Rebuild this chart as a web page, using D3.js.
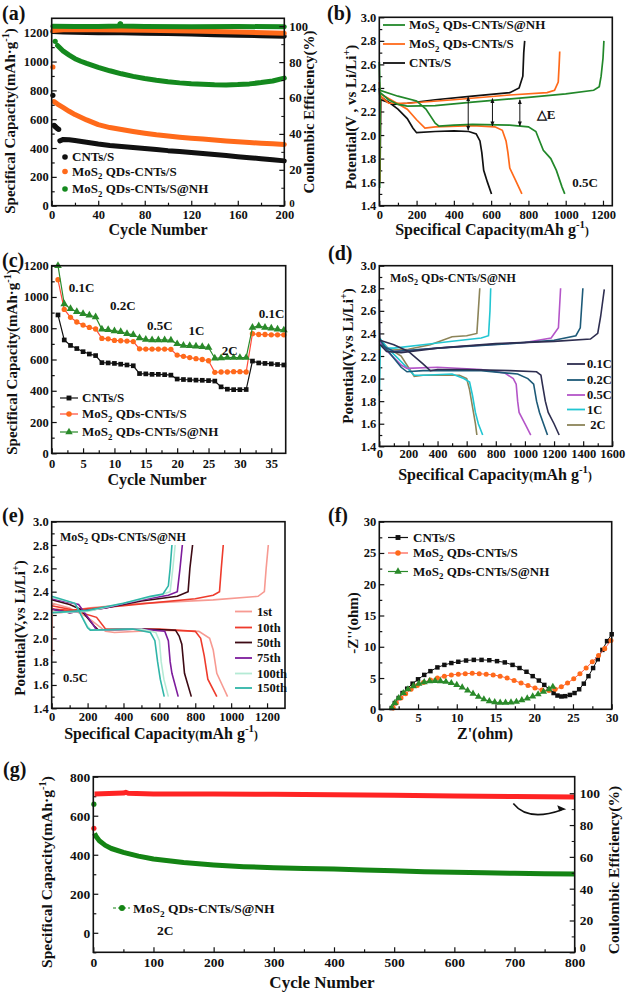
<!DOCTYPE html>
<html><head><meta charset="utf-8">
<script src="https://cdn.jsdelivr.net/npm/d3@7"></script>
<style>
body{margin:0;background:#fff}
svg{display:block}
text{font-family:"Liberation Serif","Times New Roman",serif;font-weight:bold;fill:#111}
</style>
</head><body>
<svg id="c" width="626" height="992"></svg>
<script>
// ---------------- DATA ----------------
// (a) cycling at 0.5C
const aCycleTicks=[0,40,80,120,160,200];
const aCapTicks=[0,200,400,600,800,1000,1200];
const aCETicks=[0,20,40,60,80,100];
const aCapCNT=[[1,766],[2,558],[3,550],[4,542],[5,535],[6,530],[7,450],[10,460],[15,458],[20,452],[30,440],[40,428],[50,418],[60,410],[70,403],[80,396],[90,390],[100,382],[110,376],[120,369],[130,362],[140,355],[150,348],[160,340],[170,333],[180,326],[190,318],[200,311]];
const aCapMoS=[[1,962],[2,722],[5,705],[10,680],[15,655],[20,632],[30,595],[40,562],[50,542],[60,528],[70,515],[80,503],[90,492],[100,483],[110,475],[120,468],[130,462],[140,455],[150,449],[160,443],[170,438],[180,433],[190,429],[200,425]];
const aCapNH=[[3,1140],[5,1112],[10,1072],[15,1045],[20,1020],[25,1002],[30,987],[40,960],[50,936],[60,915],[70,897],[80,882],[90,870],[100,860],[110,852],[120,846],[130,842],[140,839],[150,838],[160,840],[170,845],[180,854],[190,865],[200,885]];
const aCECNT=[[1,97],[10,96.8],[20,96.6],[40,96.4],[60,96.3],[80,96.1],[100,95.9],[120,95.6],[140,95.3],[160,95],[180,94.7],[200,94.4]];
const aCEMoS=[[1,97.6],[10,98],[40,98],[80,97.7],[120,97.3],[160,96.8],[200,96.1]];
const aCENH=[[1,100],[20,99.8],[40,99.9],[58,100.1],[59,101.2],[60,100.1],[80,99.9],[120,99.7],[160,99.8],[200,99.7]];
const aNames=["CNTs/S","MoS2 QDs-CNTs/S","MoS2 QDs-CNTs/S@NH"];

// (b) voltage profiles 0.5C
const bCapTicks=[0,200,400,600,800,1000,1200];
const bVTicks=[1.4,1.6,1.8,2.0,2.2,2.4,2.6,2.8,3.0];
const bNHdis=[[0,2.62],[4,2.38],[100,2.33],[200,2.29],[250,2.22],[300,2.10],[320,2.075],[400,2.085],[500,2.09],[700,2.085],[800,2.07],[840,2.03],[860,1.95],[880,1.87],[920,1.80],[950,1.70],[980,1.56],[995,1.50]];
const bNHch=[[2,1.55],[5,2.36],[50,2.30],[100,2.26],[150,2.245],[300,2.25],[500,2.28],[800,2.32],[1000,2.35],[1150,2.38],[1180,2.41],[1190,2.5],[1200,2.65],[1205,2.80]];
const bMoSdis=[[0,2.45],[3,2.35],[50,2.31],[150,2.22],[200,2.13],[245,2.06],[300,2.07],[500,2.08],[620,2.07],[660,2.04],[680,1.95],[690,1.85],[700,1.72],[730,1.62],[765,1.50]];
const bMoSch=[[3,1.6],[6,2.33],[50,2.27],[150,2.27],[400,2.30],[700,2.34],[900,2.36],[940,2.38],[960,2.45],[965,2.6],[968,2.71]];
const bCNTdis=[[0,2.40],[3,2.33],[50,2.28],[100,2.22],[150,2.14],[180,2.06],[200,2.02],[300,2.03],[400,2.035],[480,2.03],[520,2.01],[540,1.95],[550,1.85],[560,1.70],[580,1.60],[602,1.50]];
const bCNTch=[[4,1.7],[8,2.30],[80,2.26],[150,2.27],[300,2.30],[500,2.33],[700,2.36],[750,2.40],[770,2.5],[775,2.7],[780,2.80]];
const bArrows=[[477,2.04,2.325],[607,2.077,2.31],[754,2.077,2.30]];

// (c) rate
const cCycles=[1,2,3,4,5,6,7,8,9,10,11,12,13,14,15,16,17,18,19,20,21,22,23,24,25,26,27,28,29,30,31,32,33,34,35,36,37];
const cCNT=[885,725,690,670,650,635,625,580,578,575,570,565,560,510,508,505,505,503,500,475,472,470,468,467,465,462,425,410,407,407,408,590,578,575,572,568,565];
const cMoS=[1110,920,870,840,820,805,795,735,732,722,720,718,715,668,667,667,667,667,665,628,620,612,605,600,592,518,520,520,522,522,520,765,760,760,758,758,758];
const cNH=[1200,955,925,905,893,883,872,793,790,783,778,765,758,738,728,725,725,725,723,700,690,688,685,682,677,608,610,612,612,612,612,805,815,805,800,793,788];
const cCycleTicks=[0,5,10,15,20,25,30,35];
const cCapTicks=[0,200,400,600,800,1000,1200];
const cRates=[["0.1C",2.7,1065],["0.2C",9.3,950],["0.5C",15.2,820],["1C",21.8,790],["2C",27.1,660],["0.1C",33,895]];

// (d) rate voltage profiles
const dCapTicks=[0,200,400,600,800,1000,1200,1400,1600];
const dRates=["0.1C","0.2C","0.5C","1C"," 2C"];
const d01dis=[[0,2.70],[4,2.34],[100,2.30],[200,2.24],[300,2.13],[350,2.07],[400,2.08],[600,2.08],[900,2.07],[1080,2.06],[1110,2.03],[1120,1.95],[1140,1.80],[1160,1.70],[1200,1.60],[1235,1.50]];
const d01ch=[[6,2.30],[50,2.24],[150,2.23],[400,2.27],[800,2.31],[1200,2.33],[1450,2.35],[1500,2.40],[1520,2.55],[1545,2.79]];
const d02dis=[[0,2.35],[50,2.26],[150,2.10],[190,2.06],[300,2.07],[700,2.07],[950,2.04],[1020,2.00],[1060,1.95],[1080,1.80],[1100,1.70],[1155,1.50]];
const d02ch=[[6,2.30],[100,2.24],[400,2.27],[900,2.31],[1200,2.34],[1350,2.38],[1380,2.45],[1398,2.80]];
const d05dis=[[0,2.33],[50,2.25],[150,2.12],[190,2.09],[400,2.10],[700,2.08],[860,2.05],[920,2.00],[940,1.95],[950,1.80],[960,1.70],[1000,1.60],[1040,1.50]];
const d05ch=[[6,2.30],[100,2.24],[500,2.28],[1000,2.32],[1180,2.36],[1230,2.45],[1245,2.80]];
const d1dis=[[0,1.85],[8,2.35],[50,2.28],[150,2.15],[240,2.03],[300,2.03],[500,2.04],[580,2.00],[620,1.97],[640,1.85],[660,1.70],[680,1.60],[710,1.50]];
const d1ch=[[6,2.32],[50,2.27],[100,2.27],[300,2.30],[500,2.33],[700,2.36],[750,2.38],[760,2.6],[765,2.80]];
const d2dis=[[0,2.34],[60,2.27],[150,2.20],[240,2.02],[300,2.03],[550,2.03],[600,2.00],[620,1.90],[640,1.75],[660,1.60],[670,1.50]];
const d2ch=[[6,2.30],[50,2.25],[200,2.26],[350,2.30],[500,2.37],[600,2.38],[670,2.40],[680,2.6],[690,2.80]];

// (e) cycle voltage profiles
const eCapTicks=[0,200,400,600,800,1000,1200];
const eCycles=["1st","10th","50th","75th","100th","150th"];
const e1dis=[[0,1.85],[3,2.30],[100,2.26],[200,2.18],[300,2.06],[350,2.05],[600,2.07],[820,2.06],[880,2.00],[900,1.90],[920,1.70],[950,1.60],[980,1.50]];
const e1ch=[[4,2.22],[50,2.22],[200,2.26],[500,2.30],[900,2.33],[1150,2.36],[1185,2.40],[1195,2.60],[1207,2.80]];
const e10dis=[[0,2.28],[100,2.25],[250,2.18],[300,2.08],[600,2.08],[800,2.06],[830,2.00],[850,1.85],[870,1.65],[920,1.50]];
const e10ch=[[4,2.25],[100,2.24],[400,2.28],[800,2.34],[900,2.37],[935,2.40],[945,2.60],[956,2.80]];
const e50dis=[[0,2.33],[100,2.29],[160,2.25],[240,2.10],[260,2.07],[500,2.08],[690,2.07],[710,2.02],[725,1.95],[740,1.70],[778,1.50]];
const e50ch=[[4,2.25],[100,2.22],[300,2.26],[500,2.32],[700,2.36],[760,2.40],[770,2.6],[785,2.80]];
const e75dis=[[0,2.34],[150,2.29],[230,2.12],[250,2.07],[500,2.08],[630,2.06],[650,1.98],[660,1.80],[670,1.70],[705,1.50]];
const e75ch=[[4,2.25],[100,2.22],[300,2.26],[500,2.33],[650,2.37],[700,2.40],[715,2.6],[728,2.80]];
const e100dis=[[0,2.35],[130,2.30],[200,2.10],[220,2.07],[500,2.08],[580,2.05],[600,1.98],[610,1.80],[625,1.65],[650,1.50]];
const e100ch=[[4,2.22],[200,2.23],[400,2.30],[600,2.37],[660,2.40],[675,2.6],[688,2.80]];
const e150dis=[[0,2.36],[130,2.30],[200,2.09],[215,2.07],[450,2.08],[550,2.05],[575,1.98],[590,1.80],[605,1.65],[627,1.50]];
const e150ch=[[4,2.22],[200,2.24],[400,2.30],[550,2.36],[620,2.38],[650,2.45],[660,2.6],[670,2.80]];

// (f) EIS
const fTicks=[0,5,10,15,20,25,30];
const fCNT=[[1.6,0.2],[2.0,1.0],[2.5,1.8],[3.0,2.6],[3.6,3.3],[4.3,4.1],[5.0,4.8],[5.8,5.5],[6.6,6.1],[7.5,6.7],[8.4,7.1],[9.3,7.4],[10.2,7.6],[11.2,7.8],[12.2,7.9],[13.2,7.9],[14.2,7.85],[15.2,7.7],[16.2,7.5],[17.2,7.1],[18.1,6.6],[19.0,6.0],[19.8,5.3],[20.6,4.6],[21.3,3.9],[21.9,3.2],[22.5,2.6],[23.0,2.2],[23.5,2.05],[24.0,2.1],[24.6,2.3],[25.2,2.6],[25.8,3.2],[26.4,4.1],[27.0,5.3],[27.6,6.6],[28.2,8.0],[28.8,9.5],[29.4,10.9],[30.0,12.0]];
const fMoS=[[1.8,0.2],[2.2,1.0],[2.8,1.8],[3.4,2.5],[4.1,3.2],[4.9,3.8],[5.7,4.3],[6.6,4.7],[7.5,5.0],[8.4,5.3],[9.3,5.5],[10.2,5.6],[11.1,5.7],[12.0,5.75],[12.9,5.7],[13.8,5.6],[14.7,5.5],[15.6,5.3],[16.5,5.0],[17.4,4.6],[18.3,4.2],[19.2,3.8],[20.1,3.4],[21.0,3.1],[21.9,3.0],[22.7,3.2],[23.5,3.6],[24.3,4.2],[25.1,4.9],[25.9,5.7],[26.7,6.6],[27.5,7.6],[28.3,8.6],[29.1,9.7],[29.9,11.0]];
const fNH=[[1.6,0.2],[2.0,1.0],[2.5,1.8],[3.1,2.6],[3.7,3.2],[4.4,3.7],[5.1,4.1],[5.8,4.35],[6.5,4.5],[7.2,4.55],[7.9,4.5],[8.6,4.4],[9.3,4.2],[10.0,3.9],[10.7,3.5],[11.4,3.0],[12.1,2.5],[12.8,2.0],[13.5,1.6],[14.2,1.3],[14.9,1.15],[15.6,1.05],[16.3,1.05],[17.0,1.1],[17.7,1.2],[18.4,1.45],[19.1,1.75],[19.8,2.05],[20.5,2.4],[21.2,2.8],[21.9,3.2],[22.4,3.6]];

// (g) long cycling at 2C
const gCycleTicks=[0,100,200,300,400,500,600,700,800];
const gCapTicks=[0,200,400,600,800];
const gCETicks=[0,20,40,60,80,100];
const gCap=[[1,659],[2,510],[5,492],[10,472],[20,448],[30,432],[50,412],[75,393],[100,378],[150,360],[200,348],[250,339],[300,333],[350,330],[400,327],[450,322],[500,318],[550,313],[600,310],[650,308],[700,305],[750,303],[800,301]];
const gCE=[[1,78],[2,99.6],[50,100.1],[54,100.6],[58,100],[100,99.6],[200,99.5],[300,99.3],[400,99],[500,98.7],[600,98.3],[700,97.9],[800,97.6]];

// ---------------- DRAWING ----------------
const svg=d3.select("#c");
const FONT_TICK=12.5;

function rich(sel,segs,fs){
  let shift=0;
  segs.forEach(([t,type])=>{
    let dy=0,size=fs;
    if(type==="sub"){dy=fs*0.28-shift;shift=fs*0.28;size=fs*0.68;}
    else if(type==="sup"){dy=-fs*0.42-shift;shift=-fs*0.42;size=fs*0.68;}
    else {dy=-shift;shift=0;if(type==="small")size=fs*0.72;}
    sel.append("tspan").attr("dy",dy).attr("font-size",size).text(t);
  });
  return sel;
}
function nameSegs(n){
  if(n.startsWith("MoS2")) return [["MoS"],["2","sub"],[n.slice(4)]];
  return [[n]];
}

function panel(o){
  const g=svg.append("g");
  const x=d3.scaleLinear().domain(o.xd).range([o.x0,o.x1]);
  const y=d3.scaleLinear().domain(o.yd).range([o.y1,o.y0]);
  const ts=o.ts||FONT_TICK;
  if(o.xm){g.append("g").attr("transform",`translate(0,${o.y1})`).call(d3.axisBottom(x).tickValues(o.xm).tickSize(-3).tickFormat(""));}
  if(o.ym){g.append("g").attr("transform",`translate(${o.x0},0)`).call(d3.axisLeft(y).tickValues(o.ym).tickSize(-3).tickFormat(""));}
  const gx=g.append("g").attr("transform",`translate(0,${o.y1})`)
    .call(d3.axisBottom(x).tickValues(o.xt).tickSize(-5).tickPadding(o.xpad||4).tickFormat(o.xf||d3.format("d")));
  const gy=g.append("g").attr("transform",`translate(${o.x0},0)`)
    .call(d3.axisLeft(y).tickValues(o.yt).tickSize(-5).tickPadding(3).tickFormat(o.yf||d3.format("d")));
  [gx,gy].forEach(a=>{a.selectAll("text").attr("font-size",ts).attr("font-family",null).style("fill","#111");});
  g.selectAll(".domain").remove();
  g.selectAll("line").attr("stroke","#111").attr("stroke-width",1.2);
  const layer=svg.append("g");
  svg.append("rect").attr("x",o.x0).attr("y",o.y0).attr("width",o.x1-o.x0).attr("height",o.y1-o.y0)
    .attr("fill","none").attr("stroke","#111").attr("stroke-width",1.6);
  return {x,y,g,layer};
}
function rightAxis(p,o,sc){
  const a=svg.append("g").attr("transform",`translate(${o.x1},0)`)
    .call(d3.axisRight(sc).tickValues(o.rt).tickSize(-5).tickPadding(5).tickFormat(d3.format("d")));
  a.select(".domain").remove();
  a.selectAll("line").attr("stroke","#111").attr("stroke-width",1.2);
  a.selectAll("text").attr("font-size",o.ts||FONT_TICK).attr("font-family",null).style("fill","#111");
  a.selectAll(".tick").filter(d=>d===0).select("text").attr("dy",o.zdy||"0.1em").attr("font-size",(o.ts||FONT_TICK)-1.5);
  if(o.rm){const m=svg.append("g").attr("transform",`translate(${o.x1},0)`).call(d3.axisRight(sc).tickValues(o.rm).tickSize(-3).tickFormat(""));m.select(".domain").remove();m.selectAll("line").attr("stroke","#111");}
}
function label(t,x,y){svg.append("text").attr("x",x).attr("y",y).attr("font-size",20).text(t);}
function xTitle(segs,cx,y,fs){rich(svg.append("text").attr("x",cx).attr("y",y).attr("text-anchor","middle").attr("font-size",fs),segs,fs);}
function yTitle(segs,cx,cy,fs){rich(svg.append("text").attr("transform",`translate(${cx+fs*0.34},${cy}) rotate(-90)`).attr("text-anchor","middle").attr("font-size",fs),segs,fs);}
function lineGen(p){return d3.line().x(d=>p.x(d[0])).y(d=>p.y(d[1]));}

const capTitle=[["Specifical Capacity(mAh·g"],["-1","sup"],[")"]];
const capXTitle=[["Specifical Capacity"],["(","small"],["mAh g"],["-1","sup"],[")","small"]];
const cycTitle=[["Cycle Number"]];
const ceTitle=[["Coulombic Efficiency(%)"]];

const BLK="#111111", ORG="#ff6a1a", GRN="#14891e";

// ===== (a) =====
{
  const o={x0:51.7,x1:284.3,y0:18.3,y1:205.7,xd:[0,200],yd:[0,1300],xt:aCycleTicks,yt:aCapTicks,
    xm:[20,60,100,140,180],ym:[100,300,500,700,900,1100],rt:aCETicks,rm:[10,30,50,70,90]};
  const p=panel(o);
  const yr=d3.scaleLinear().domain([0,104.4]).range([o.y1,o.y0]);
  rightAxis(p,o,yr);
  const L=p.layer;
  const drawBand=(data,col,sy,start)=>{
    const band=data.filter(d=>d[0]>=start);
    L.append("path").datum(band).attr("d",d3.line().x(d=>p.x(d[0])).y(d=>sy(d[1])))
      .attr("fill","none").attr("stroke",col).attr("stroke-width",5).attr("stroke-linecap","round").attr("stroke-linejoin","round");
    L.selectAll(null).data(data.filter(d=>d[0]<start)).join("circle")
      .attr("cx",d=>p.x(d[0])).attr("cy",d=>sy(d[1])).attr("r",2.6).attr("fill",col);
  };
  drawBand(aCECNT,BLK,yr,1);
  drawBand(aCEMoS,ORG,yr,1);
  drawBand(aCENH,GRN,yr,1);
  drawBand(aCapCNT,BLK,p.y,7);
  drawBand(aCapMoS,ORG,p.y,2);
  drawBand(aCapNH,GRN,p.y,5);
  L.selectAll(null).data(aCENH.filter(d=>d[1]>101)).join("circle").attr("cx",d=>p.x(d[0])).attr("cy",d=>yr(d[1])).attr("r",2.8).attr("fill",GRN);
  const ly=[161,175.5,193],cols=[BLK,ORG,GRN];
  aNames.forEach((n,i)=>{
    svg.append("circle").attr("cx",65).attr("cy",ly[i]-4).attr("r",2.8).attr("fill",cols[i]);
    rich(svg.append("text").attr("x",72).attr("y",ly[i]).attr("font-size",13),nameSegs(n),13);
  });
  label("(a)",2,20);
  xTitle(cycTitle,158,235,16);
  yTitle(capTitle,10,121,15);
  yTitle(ceTitle,309,112,15);
}

// ===== (b) =====
{
  const o={x0:379.3,x1:612.3,y0:17.3,y1:205.7,xd:[0,1250],yd:[1.4,3.0],xt:bCapTicks,yt:bVTicks,
    xm:[100,300,500,700,900,1100],ym:[1.5,1.7,1.9,2.1,2.3,2.5,2.7,2.9],yf:d3.format(".1f")};
  const p=panel(o);const lg=lineGen(p);
  const series=[[bCNTdis,bCNTch,BLK],[bMoSdis,bMoSch,ORG],[bNHdis,bNHch,"#22882a"]];
  series.forEach(([d,c,col])=>{
    [d,c].forEach(s=>p.layer.append("path").datum(s).attr("d",lg).attr("fill","none").attr("stroke",col).attr("stroke-width",1.7));
  });
  const defs=svg.append("defs");
  defs.append("marker").attr("id","ah").attr("viewBox","0 0 10 10").attr("refX",9).attr("refY",5)
    .attr("markerWidth",5).attr("markerHeight",5).attr("orient","auto-start-reverse")
    .append("path").attr("d","M0,1 L10,5 L0,9 z").attr("fill","#111");
  bArrows.forEach(([cx,lo,hi])=>{
    svg.append("line").attr("x1",p.x(cx)).attr("x2",p.x(cx)).attr("y1",p.y(lo)).attr("y2",p.y(hi))
      .attr("stroke","#111").attr("stroke-width",1).attr("marker-start","url(#ah)").attr("marker-end","url(#ah)");
  });
  svg.append("text").attr("x",p.x(845)).attr("y",p.y(2.14)).attr("font-size",13).attr("font-weight","normal").text("△E");
  svg.append("text").attr("x",p.x(1035)).attr("y",p.y(1.56)).attr("font-size",13).text("0.5C");
  const names=[aNames[2],aNames[1],aNames[0]],cols=["#22882a",ORG,BLK],ly=[29,48,67];
  names.forEach((n,i)=>{
    svg.append("line").attr("x1",383).attr("x2",405).attr("y1",ly[i]-4).attr("y2",ly[i]-4).attr("stroke",cols[i]).attr("stroke-width",1.8);
    rich(svg.append("text").attr("x",409).attr("y",ly[i]).attr("font-size",13),nameSegs(n),13);
  });
  label("(b)",327,20);
  xTitle(capXTitle,492,235,16);
  yTitle([["Potential(V ,  vs Li/Li"],["+","sup"],[")"]],351,117,15);
}

// ===== (c) =====
{
  const o={x0:51.7,x1:285.7,y0:265.7,y1:453.3,xd:[0,37.3],yd:[0,1200],xt:cCycleTicks,yt:cCapTicks,
    xm:[2.5,7.5,12.5,17.5,22.5,27.5,32.5],ym:[100,300,500,700,900,1100],xpad:6};
  const p=panel(o);
  const mk=(vals,col,lcol,shape)=>{
    const data=cCycles.map((c,i)=>[c,vals[i]]);
    p.layer.append("path").datum(data).attr("d",lineGen(p)).attr("fill","none").attr("stroke",lcol).attr("stroke-width",1.2);
    p.layer.selectAll(null).data(data).join("path")
      .attr("transform",d=>`translate(${p.x(d[0])},${p.y(d[1])})`)
      .attr("d",d3.symbol().type(shape).size(shape===d3.symbolTriangle?26:22)).attr("fill",col);
  };
  mk(cCNT,BLK,BLK,d3.symbolSquare);
  mk(cMoS,ORG,"#ff4a3a",d3.symbolCircle);
  mk(cNH,"#2a8a2a","#2a8a2a",d3.symbolTriangle);
  cRates.forEach(([t,cx,v])=>svg.append("text").attr("x",p.x(cx)).attr("y",p.y(v)+5).attr("font-size",13).text(t));
  const ly=[402,418,436],cols=[[BLK,BLK,d3.symbolSquare],[ORG,"#ff4a3a",d3.symbolCircle],["#2a8a2a","#2a8a2a",d3.symbolTriangle]];
  aNames.forEach((n,i)=>{
    svg.append("line").attr("x1",60).attr("x2",78).attr("y1",ly[i]-4).attr("y2",ly[i]-4).attr("stroke",cols[i][1]).attr("stroke-width",1.2);
    svg.append("path").attr("transform",`translate(69,${ly[i]-4})`).attr("d",d3.symbol().type(cols[i][2]).size(24)).attr("fill",cols[i][0]);
    rich(svg.append("text").attr("x",82).attr("y",ly[i]).attr("font-size",13),nameSegs(n),13);
  });
  label("(c)",2,267);
  xTitle(cycTitle,157,485,16);
  yTitle(capTitle,12,362,15);
}

// ===== (d) =====
{
  const o={x0:379.3,x1:612.3,y0:265.7,y1:446.3,xd:[0,1600],yd:[1.4,3.0],xt:dCapTicks,yt:bVTicks,
    xm:[100,300,500,700,900,1100,1300,1500],ym:[1.5,1.7,1.9,2.1,2.3,2.5,2.7,2.9],yf:d3.format(".1f"),xpad:3};
  const p=panel(o);const lg=lineGen(p);
  const cols=["#2e2e50","#1d5a78","#b455c8","#22c6d2","#8c8458"];
  const sets=[[d01dis,d01ch],[d02dis,d02ch],[d05dis,d05ch],[d1dis,d1ch],[d2dis,d2ch]];
  [4,3,2,1,0].forEach(i=>sets[i].forEach(s=>p.layer.append("path").datum(s).attr("d",lg).attr("fill","none").attr("stroke",cols[i]).attr("stroke-width",1.6)));
  const ly=[368,384,399,413.5,429];
  dRates.forEach((t,i)=>{
    svg.append("line").attr("x1",567).attr("x2",585).attr("y1",ly[i]-4).attr("y2",ly[i]-4).attr("stroke",cols[i]).attr("stroke-width",1.8);
    svg.append("text").attr("x",587).attr("y",ly[i]).attr("font-size",12.5).text(t).style("white-space","pre");
  });
  rich(svg.append("text").attr("x",390).attr("y",282).attr("font-size",12),nameSegs(aNames[2]),12);
  label("(d)",328,260);
  xTitle(capXTitle,495,480,16);
  yTitle([["Potential(V,vs Li/Li"],["+","sup"],[")"]],348,356,15);
}

// ===== (e) =====
{
  const o={x0:51.7,x1:285,y0:521.7,y1:708.3,xd:[0,1300],yd:[1.4,3.0],xt:eCapTicks,yt:bVTicks,
    xm:[100,300,500,700,900,1100],ym:[1.5,1.7,1.9,2.1,2.3,2.5,2.7,2.9],yf:d3.format(".1f")};
  const p=panel(o);const lg=lineGen(p);
  const cols=["#f79a92","#ee3b2c","#3d0a14","#7d1c9c","#b5ead5","#2fb5a8"];
  const sets=[[e1dis,e1ch],[e10dis,e10ch],[e50dis,e50ch],[e75dis,e75ch],[e100dis,e100ch],[e150dis,e150ch]];
  sets.forEach((s2,i)=>s2.forEach(s=>p.layer.append("path").datum(s).attr("d",lg).attr("fill","none").attr("stroke",cols[i]).attr("stroke-width",1.6)));
  const ly=[615.5,631.5,646.5,662,677.5,692];
  eCycles.forEach((t,i)=>{
    svg.append("line").attr("x1",235).attr("x2",252).attr("y1",ly[i]-4).attr("y2",ly[i]-4).attr("stroke",cols[i]).attr("stroke-width",1.8);
    svg.append("text").attr("x",257).attr("y",ly[i]).attr("font-size",12.5).text(t);
  });
  rich(svg.append("text").attr("x",60).attr("y",541).attr("font-size",12),nameSegs(aNames[2]),12);
  svg.append("text").attr("x",63).attr("y",682).attr("font-size",12.5).text("0.5C");
  label("(e)",2,522);
  xTitle(capXTitle,161,739,16);
  yTitle([["Potential(V,vs Li/Li"],["+","sup"],[")"]],20,628,15);
}

// ===== (f) =====
{
  const o={x0:379.3,x1:611.7,y0:521.7,y1:709.3,xd:[0,30],yd:[0,30],xt:fTicks,yt:fTicks,
    xm:[2.5,7.5,12.5,17.5,22.5,27.5],ym:[2.5,7.5,12.5,17.5,22.5,27.5]};
  const p=panel(o);const lg=lineGen(p);
  const sets=[[fCNT,BLK,BLK,d3.symbolSquare,20],[fMoS,ORG,"#ff5a4a",d3.symbolCircle,20],[fNH,"#2a8a2a","#2a8a2a",d3.symbolTriangle,22]];
  sets.forEach(([d,col,lc,sh,sz])=>{
    p.layer.append("path").datum(d).attr("d",lg).attr("fill","none").attr("stroke",lc).attr("stroke-width",1);
    p.layer.selectAll(null).data(d).join("path").attr("transform",q=>`translate(${p.x(q[0])},${p.y(q[1])})`)
      .attr("d",d3.symbol().type(sh).size(sz)).attr("fill",col);
  });
  const ly=[541.5,557,575.5];
  aNames.forEach((n,i)=>{
    svg.append("line").attr("x1",388).attr("x2",408).attr("y1",ly[i]-4).attr("y2",ly[i]-4).attr("stroke",sets[i][2]).attr("stroke-width",1.2);
    svg.append("path").attr("transform",`translate(398,${ly[i]-4})`).attr("d",d3.symbol().type(sets[i][3]).size(24)).attr("fill",sets[i][1]);
    rich(svg.append("text").attr("x",413).attr("y",ly[i]).attr("font-size",13),nameSegs(n),13);
  });
  label("(f)",328,522);
  xTitle([["Z'(ohm)"]],485,739,16);
  yTitle([["-Z''(ohm)"]],353,623,15);
}

// ===== (g) =====
{
  const o={x0:93.3,x1:574.7,y0:776.7,y1:952.3,xd:[0,800],yd:[-100,800],xt:gCycleTicks,yt:gCapTicks,
    xm:[50,150,250,350,450,550,650,750],ym:[-100,100,300,500,700],rt:gCETicks,rm:[10,30,50,70,90],ts:13.5,xpad:5,zdy:"-0.05em"};
  const p=panel(o);
  const yr=d3.scaleLinear().domain([0,110.4]).range([o.y1,o.y0]);
  rightAxis(p,o,yr);
  const band=(data,col,sy)=>{
    p.layer.append("path").datum(data.slice(1)).attr("d",d3.line().x(d=>p.x(d[0])).y(d=>sy(d[1])))
      .attr("fill","none").attr("stroke",col).attr("stroke-width",5).attr("stroke-linejoin","round");
    p.layer.append("circle").attr("cx",p.x(data[0][0])).attr("cy",sy(data[0][1])).attr("r",2.6).attr("fill",col);
  };
  band(gCE,"#ff2424",yr);
  band(gCap,"#148414",p.y);
  svg.append("path").attr("d",`M${p.x(698)},${yr(93.5)} Q${p.x(722)},${yr(82)} ${p.x(778)},${yr(89.5)}`)
    .attr("fill","none").attr("stroke","#111").attr("stroke-width",1.6);
  svg.append("path").attr("d",`M${p.x(786)},${yr(90)} l-9,-4 l2,6 z`).attr("fill","#111");
  svg.append("line").attr("x1",113).attr("x2",130).attr("y1",908).attr("y2",908).attr("stroke","#148414").attr("stroke-dasharray","3,2").attr("stroke-width",1);
  svg.append("circle").attr("cx",122).attr("cy",908).attr("r",3).attr("fill","#148414");
  rich(svg.append("text").attr("x",133).attr("y",913).attr("font-size",13.5),nameSegs(aNames[2]),13.5);
  svg.append("text").attr("x",157).attr("y",935).attr("font-size",13.5).text("2C");
  label("(g)",3,776);
  xTitle(cycTitle,322,988,17);
  yTitle(capTitle,47,872,15.5);
  yTitle(ceTitle,614,870,15.5);
}
</script>
</body></html>
